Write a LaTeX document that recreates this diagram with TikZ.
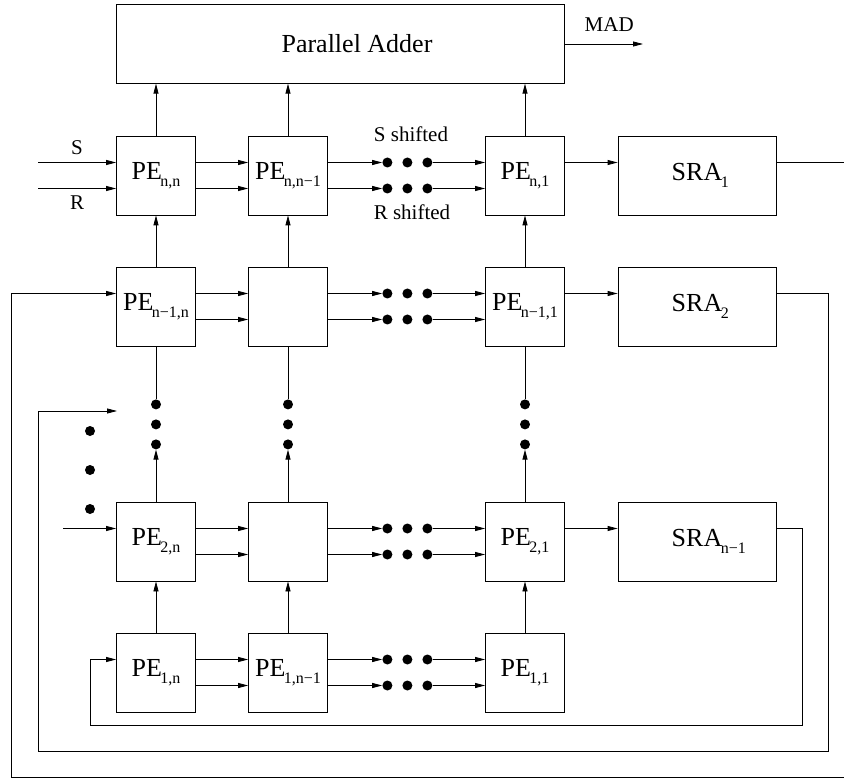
\documentclass[tikz,border=0pt]{standalone}
\usepackage{fontspec}
\setmainfont{Liberation Serif}
\usetikzlibrary{arrows.meta,positioning,calc}
\newcommand{\peidx}[1]{\kern-1.5pt\raisebox{-7pt}{\fontsize{16}{16}\selectfont #1}}

\begin{document}
\begin{tikzpicture}[
  x=1pt,y=-1pt,
  pe/.style={draw,line width=0.8pt,minimum width=79pt,minimum height=79pt,inner sep=0pt,font=\fontsize{26}{26}\selectfont},
  sra/.style={pe,minimum width=158pt},
  dot/.style={circle,fill=black,inner sep=0pt,minimum size=10pt},
  arr/.style={-{Triangle[length=10pt,width=5pt]},line width=0.8pt},
  lbl/.style={font=\fontsize{21}{21}\selectfont,inner sep=3pt}
]
\clip (0,0) rectangle (844,778);
% ---------------- adder ----------------
\node[pe,minimum width=448pt,minimum height=78.5pt] (add) at (340,44) {\hspace*{34pt}Parallel Adder};
\coordinate (madOut) at (643,44);
\draw[arr] (add.east) -- node[lbl,above=9pt,pos=0.57]{MAD} (madOut);
% ---------------- PE array ----------------
\node[pe] (peNN) at (156,175.5) {PE\peidx{n,n}};
\node[pe] (peNM) at (288,175.5) {PE\peidx{n,n−1}};
\node[pe] (peN1) at (525,175.5) {PE\peidx{n,1}};
\node[pe] (peMN) at (156,306.5) {PE\peidx{n−1,n}};
\node[pe] (peMM) at (288,306.5) {};
\node[pe] (peM1) at (525,306.5) {PE\peidx{n−1,1}};
\node[pe] (pe2N) at (156,541.5) {PE\peidx{2,n}};
\node[pe] (pe22) at (288,541.5) {};
\node[pe] (pe21) at (525,541.5) {PE\peidx{2,1}};
\node[pe] (pe1N) at (156,672.5) {PE\peidx{1,n}};
\node[pe] (pe1M) at (288,672.5) {PE\peidx{1,n−1}};
\node[pe] (pe11) at (525,672.5) {PE\peidx{1,1}};
% ---------------- shift register adders ----------------
\node[sra] (sra1) at (697,175.5) {SRA\rlap{\peidx{1}}};
\node[sra] (sra2) at (697,306.5) {SRA\rlap{\peidx{2}}};
\node[sra] (sram) at (697,541.5) {SRA\rlap{\peidx{n−1}}};
% ---------------- S and R inputs ----------------
\coordinate (sIn) at (38,162.5);
\coordinate (rIn) at (38,188.5);
\coordinate (in2n) at (63,528.5);
\draw[arr] (sIn) -- node[lbl,above=4pt]{S} ([yshift=13pt]peNN.west);
\draw[arr] (rIn) -- node[lbl,below=4pt]{R} ([yshift=-13pt]peNN.west);
\draw[arr] (in2n) -- ([yshift=13pt]pe2N.west);
\node[lbl,anchor=base] (sShift) at (411,141.7) {S shifted};
\node[lbl,anchor=base] (rShift) at (412,220) {R shifted};
% ---------------- horizontal links ----------------
\foreach \a/\b in {NN/NM, MN/MM, 2N/22, 1N/1M} {
  \draw[arr] ([yshift=13pt]pe\a.east) -- ([yshift=13pt]pe\b.west);
  \draw[arr] ([yshift=-13pt]pe\a.east) -- ([yshift=-13pt]pe\b.west);
}
\foreach \rw/\a/\b in {N/NM/N1, M/MM/M1, 2/22/21, 1/1M/11} {
  \foreach \s/\lev in {u/13, l/-13} {
    \path ([yshift=\lev pt]pe\a.east) ++(59.5,0) node[dot] (h\rw\s1) {}
      ++(20,0) node[dot] (h\rw\s2) {} ++(20,0) node[dot] (h\rw\s3) {};
    \draw[arr] ([yshift=\lev pt]pe\a.east) -- (h\rw\s1);
    \draw[arr] (h\rw\s3) -- ([yshift=\lev pt]pe\b.west);
  }
}
\draw[arr] ([yshift=13pt]peN1.east) -- ([yshift=13pt]sra1.west);
\draw[arr] ([yshift=13pt]peM1.east) -- ([yshift=13pt]sra2.west);
\draw[arr] ([yshift=13pt]pe21.east) -- ([yshift=13pt]sram.west);
% ---------------- vertical links ----------------
\draw[arr] (peNN.north) -- (peNN.north |- add.south);
\draw[arr] (peNM.north) -- (peNM.north |- add.south);
\draw[arr] (peN1.north) -- (peN1.north |- add.south);
\draw[arr] (peMN.north) -- (peNN.south);
\draw[arr] (peMM.north) -- (peNM.south);
\draw[arr] (peM1.north) -- (peN1.south);
\draw[arr] (pe1N.north) -- (pe2N.south);
\draw[arr] (pe1M.north) -- (pe22.south);
\draw[arr] (pe11.north) -- (pe21.south);
\foreach \t/\b/\cc in {MN/2N/1, MM/22/2, M1/21/3} {
  \path (pe\t.south) ++(0,58) node[dot] (v\cc a) {} ++(0,20) node[dot] (v\cc b) {}
    ++(0,20) node[dot] (v\cc c) {};
  \draw[line width=0.8pt] (pe\t.south) -- (v\cc a);
  \draw[arr] (pe\b.north) -- (v\cc c);
}
\node[dot] (l1) at (90,431) {};
\node[dot] (l2) at (90,470) {};
\node[dot] (l3) at (90,509) {};
% ---------------- feedback loops ----------------
\coordinate (fbA) at (850,777);
\coordinate (fbB) at (11,777);
\draw[arr] ([yshift=13pt]sra1.east) -| (fbA) -- (fbB) |- ([yshift=13pt]peMN.west);
\coordinate (fbC) at (828,751);
\coordinate (fbD) at (38,751);
\coordinate (in2) at (117,411);
\draw[arr] ([yshift=13pt]sra2.east) -| (fbC) -- (fbD) |- (in2);
\coordinate (fbE) at (802,725);
\coordinate (fbF) at (90,725);
\draw[arr] ([yshift=13pt]sram.east) -| (fbE) -- (fbF) |- ([yshift=13pt]pe1N.west);
\end{tikzpicture}
\end{document}
